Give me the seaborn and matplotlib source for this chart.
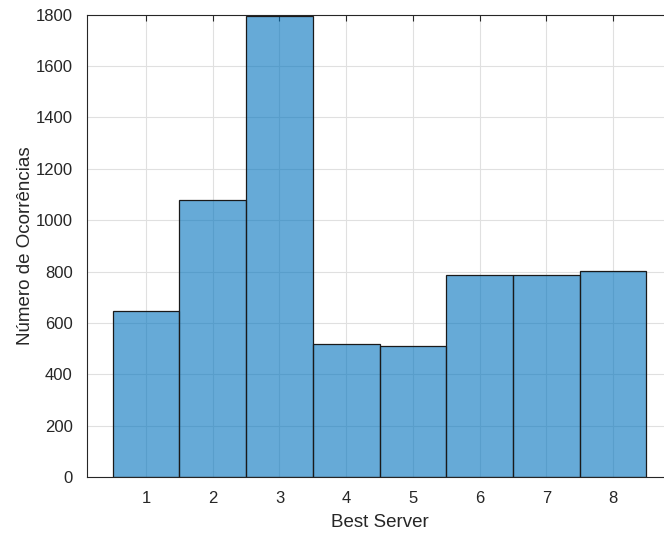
import numpy as np
import pandas as pd
import matplotlib
matplotlib.use('Agg')
import matplotlib.pyplot as plt
import seaborn as sns

# data
servers = [1, 2, 3, 4, 5, 6, 7, 8]
counts = [648, 1080, 1797, 519, 512, 785, 785, 802]

df = pd.DataFrame({'server': servers, 'count': counts})

sns.set_style('white')
plt.rcParams['font.family'] = ['Liberation Sans', 'DejaVu Sans']

fig = plt.figure(figsize=(6.64, 5.36), dpi=100)
ax = fig.add_axes([0.1306, 0.110, 0.882, 0.8625])

ax.grid(True, color='#e0e0e0', linewidth=0.8)
ax.set_axisbelow(True)

sns.histplot(data=df, x='server', weights='count', discrete=True,
             color=(0, 0.447, 0.741), alpha=0.6, edgecolor='#1a1a1a',
             linewidth=0.9, ax=ax)

ax.set_xlim(0.11, 8.89)
ax.set_ylim(0, 1800)
ax.set_xticks(servers)
ax.set_yticks(np.arange(0, 1801, 200))

ax.set_xlabel('Best Server', fontsize=13.5, color='#262626', labelpad=6)
ax.set_ylabel('Número de Ocorrências', fontsize=13.5, color='#262626', labelpad=1)

ax.tick_params(direction='in', length=4, width=0.8, top=True, right=True,
               labelsize=12, colors='#262626')
ax.tick_params(axis='x', pad=10)
ax.tick_params(axis='y', pad=10)
for s in ax.spines.values():
    s.set_color('#262626')
    s.set_linewidth(0.8)

fig.savefig('out.png', dpi=100)
